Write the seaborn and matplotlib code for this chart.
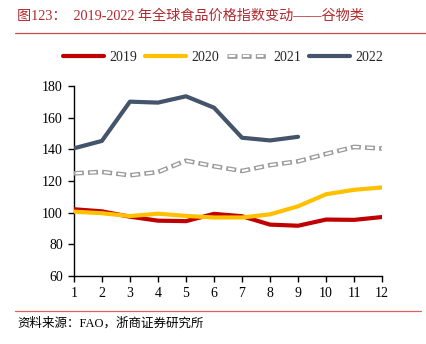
import matplotlib
matplotlib.use("Agg")
import matplotlib.pyplot as plt
from matplotlib.lines import Line2D
from matplotlib.legend_handler import HandlerTuple
import seaborn as sns
import pandas as pd

months = list(range(1, 13))
idx_2019 = [102.1, 100.8, 97.4, 94.9, 94.6, 99.2, 97.7, 92.4, 91.7, 95.6, 95.4, 97.2]
idx_2020 = [100.6, 99.6, 97.8, 99.3, 97.9, 96.9, 96.9, 98.9, 104.0, 111.6, 114.4, 115.9]
idx_2021 = [124.8, 125.7, 123.6, 125.6, 132.8, 129.3, 126.3, 130.0, 132.4, 137.1, 141.5, 140.5]
idx_2022 = [140.6, 145.3, 170.1, 169.5, 173.5, 166.3, 147.3, 145.6, 147.9]
y_ticks = [60, 80, 100, 120, 140, 160, 180]

title = "图123：  2019-2022 年全球食品价格指数变动——谷物类"
source = "资料来源：FAO，浙商证券研究所"

sns.set_style("ticks")
plt.rcParams["font.family"] = ["Liberation Serif", "Noto Sans CJK SC"]

fig = plt.figure(figsize=(4.27, 3.44), dpi=100)
ax = fig.add_axes([0.173, 0.198, 0.722, 0.552])

red = "#C00000"
gold = "#FFC000"
navy = "#44546A"
grey = "#9A9A9A"
lw = 3.0

# hollow dash style: grey outer dash, narrower white dash centred inside it
outer_lw, inner_lw = 3.3, 1.5
outer_ls = (0, (2.18, 0.91))
inner_ls = (6.0, (3.2, 3.6))

df19 = pd.DataFrame({"month": months, "v": idx_2019})
df20 = pd.DataFrame({"month": months, "v": idx_2020})
df21 = pd.DataFrame({"month": months, "v": idx_2021})
df22 = pd.DataFrame({"month": months[:len(idx_2022)], "v": idx_2022})

sns.lineplot(data=df19, x="month", y="v", ax=ax, color=red, lw=lw, zorder=3)
sns.lineplot(data=df20, x="month", y="v", ax=ax, color=gold, lw=lw, zorder=4)
sns.lineplot(data=df21, x="month", y="v", ax=ax, color=grey, lw=outer_lw, zorder=3,
             linestyle=outer_ls)
sns.lineplot(data=df21, x="month", y="v", ax=ax, color="white", lw=inner_lw, zorder=3.5,
             linestyle=inner_ls)
sns.lineplot(data=df22, x="month", y="v", ax=ax, color=navy, lw=lw, zorder=5)

ax.set_xlim(1, 12)
ax.set_ylim(60, 180)
ax.set_xticks(months)
ax.set_yticks(y_ticks)
ax.set_xlabel("")
ax.set_ylabel("")
for s in ["top", "right"]:
    ax.spines[s].set_visible(False)
for s in ["left", "bottom"]:
    ax.spines[s].set_color("black")
    ax.spines[s].set_linewidth(1.0)
ax.tick_params(axis="both", direction="out", length=4, width=1.0, colors="black",
               labelsize=10, pad=4)

# legend
hollow = (Line2D([], [], color=grey, lw=outer_lw, linestyle=outer_ls),
          Line2D([], [], color="white", lw=inner_lw, linestyle=inner_ls))
handles = [
    Line2D([], [], color=red, lw=lw),
    Line2D([], [], color=gold, lw=lw),
    hollow,
    Line2D([], [], color=navy, lw=lw),
]
fig.legend(handles, ["2019", "2020", "2021", "2022"], loc="center",
           bbox_to_anchor=(0.522, 0.832), ncol=4, frameon=False,
           fontsize=10, handlelength=3.0, columnspacing=0.55, handletextpad=0.35,
           handler_map={tuple: HandlerTuple(ndivide=1)})

# title and rules
fig.text(0.04, 0.953, title, color="#B3282D", fontsize=10.2, va="center", ha="left")
fig.add_artist(Line2D([0.035, 1.0], [0.904, 0.904], color="#C0504D", lw=0.9,
                      transform=fig.transFigure))
fig.add_artist(Line2D([0.035, 0.985], [0.096, 0.096], color="#E06060", lw=0.9,
                      transform=fig.transFigure))
fig.text(0.04, 0.06, source, color="black", fontsize=9, va="center", ha="left")

fig.savefig("out.png", dpi=100)
